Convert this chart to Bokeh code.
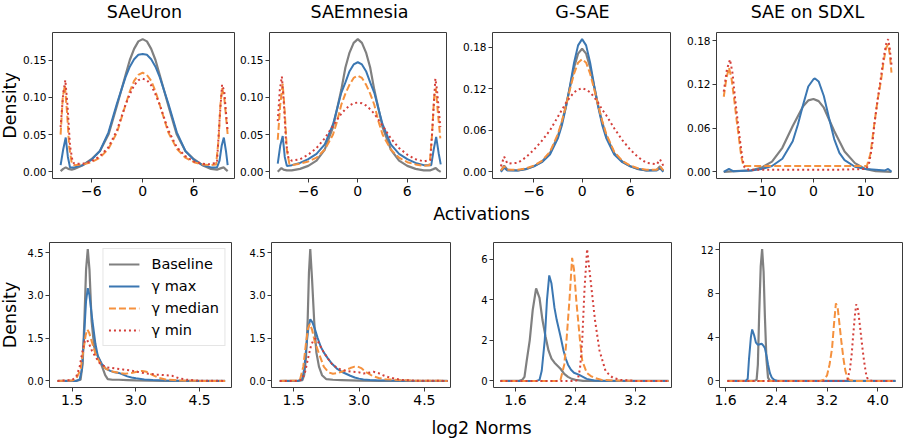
import math

from bokeh.plotting import figure
from bokeh.layouts import column, row
from bokeh.models import Range1d, FixedTicker, Label
from bokeh.embed import file_html
from bokeh.resources import INLINE

FONT = "DejaVu Sans"

# ---------------------------------------------------------------- data
series_names = ["Baseline", "γ max", "γ median", "γ min"]
panel_titles = ["SAeUron", "SAEmnesia", "G-SAE", "SAE on SDXL"]

# Activation densities -- SAeUron
saeuron_act_base_x = [-9.6, -9.3, -9.0, -8.7, -8.3, -8, -7, -6, -5, -4, -3, -2, -1.5, -1, -0.5, 0, 0.5, 1, 1.5, 2, 3, 4, 5, 6, 7, 8, 8.7, 9.2, 9.5, 9.75, 9.95]
saeuron_act_base_y = [0.001, 0.004, 0.006, 0.004, 0.003, 0.004, 0.009, 0.017, 0.028, 0.05, 0.089, 0.13, 0.15, 0.165, 0.175, 0.178, 0.175, 0.165, 0.15, 0.13, 0.089, 0.05, 0.028, 0.017, 0.009, 0.004, 0.003, 0.005, 0.006, 0.003, 0.001]
saeuron_act_max_x = [-9.6, -9.3, -9.0, -8.75, -8.5, -8, -7, -6, -5, -4, -3, -2, -1.5, -1, -0.5, 0, 0.5, 1, 1.5, 2, 3, 4, 5, 6, 7, 8, 8.7, 9.0, 9.25, 9.5, 9.75, 9.95]
saeuron_act_max_y = [0.009, 0.03, 0.046, 0.02, 0.006, 0.006, 0.009, 0.016, 0.028, 0.053, 0.092, 0.127, 0.141, 0.151, 0.157, 0.158, 0.157, 0.151, 0.141, 0.127, 0.092, 0.053, 0.028, 0.016, 0.009, 0.006, 0.006, 0.015, 0.035, 0.046, 0.028, 0.009]
saeuron_act_med_x = [-9.6, -9.35, -9.1, -8.85, -8.6, -8.3, -8, -7, -6, -5, -4, -3, -2, -1.5, -1, -0.5, 0, 0.5, 1, 1.5, 2, 3, 4, 5, 6, 7, 8, 8.6, 8.9, 9.1, 9.3, 9.55, 9.75, 9.95]
saeuron_act_med_y = [0.05, 0.1, 0.116, 0.08, 0.034, 0.012, 0.009, 0.01, 0.013, 0.019, 0.031, 0.053, 0.09, 0.108, 0.122, 0.13, 0.133, 0.13, 0.122, 0.108, 0.09, 0.053, 0.031, 0.019, 0.013, 0.01, 0.009, 0.01, 0.045, 0.09, 0.112, 0.1, 0.075, 0.05]
saeuron_act_min_x = [-9.6, -9.3, -9.05, -8.8, -8.5, -8.2, -8, -7, -6, -5, -4, -3, -2, -1.5, -1, -0.5, 0, 0.5, 1, 1.5, 2, 3, 4, 5, 6, 7, 8, 8.7, 9.0, 9.3, 9.55, 9.75, 9.95]
saeuron_act_min_y = [0.06, 0.105, 0.123, 0.09, 0.035, 0.014, 0.011, 0.011, 0.014, 0.021, 0.033, 0.056, 0.09, 0.104, 0.116, 0.123, 0.125, 0.123, 0.116, 0.104, 0.09, 0.056, 0.033, 0.021, 0.014, 0.011, 0.01, 0.013, 0.07, 0.117, 0.108, 0.08, 0.055]

# Activation densities -- SAEmnesia
saemnesia_act_base_x = [-9.7, -9.45, -9.25, -9.0, -8.6, -8, -7, -6, -5, -4, -3, -2.5, -2, -1.5, -1, -0.5, 0, 0.5, 1, 1.5, 2, 2.5, 3, 4, 5, 6, 7, 8, 8.8, 9.2, 9.45, 9.75, 10.05]
saemnesia_act_base_y = [0.0, 0.003, 0.005, 0.003, 0.002, 0.002, 0.004, 0.008, 0.015, 0.03, 0.06, 0.085, 0.11, 0.14, 0.16, 0.173, 0.178, 0.173, 0.16, 0.14, 0.11, 0.085, 0.06, 0.03, 0.015, 0.008, 0.004, 0.002, 0.002, 0.004, 0.005, 0.002, 0.0]
saemnesia_act_max_x = [-9.7, -9.4, -9.1, -8.85, -8.6, -8, -7, -6, -5, -4, -3, -2.5, -2, -1.5, -1, -0.5, 0, 0.5, 1, 1.5, 2, 2.5, 3, 4, 5, 6, 7, 8, 8.9, 9.2, 9.5, 9.8, 10.05]
saemnesia_act_max_y = [0.011, 0.035, 0.048, 0.02, 0.008, 0.009, 0.012, 0.017, 0.024, 0.037, 0.064, 0.085, 0.106, 0.12, 0.135, 0.144, 0.147, 0.144, 0.135, 0.12, 0.106, 0.085, 0.064, 0.037, 0.024, 0.017, 0.012, 0.009, 0.009, 0.03, 0.047, 0.025, 0.01]
saemnesia_act_med_x = [-9.7, -9.4, -9.1, -8.85, -8.6, -8.3, -8, -7, -6, -5, -4, -3, -2.5, -2, -1.5, -1, -0.5, 0, 0.5, 1, 1.5, 2, 2.5, 3, 4, 5, 6, 7, 8, 8.7, 9.0, 9.25, 9.45, 9.7, 10.0]
saemnesia_act_med_y = [0.043, 0.09, 0.118, 0.08, 0.03, 0.011, 0.009, 0.011, 0.014, 0.019, 0.03, 0.05, 0.068, 0.09, 0.105, 0.117, 0.126, 0.129, 0.126, 0.117, 0.105, 0.09, 0.068, 0.05, 0.03, 0.019, 0.013, 0.01, 0.008, 0.009, 0.05, 0.1, 0.112, 0.08, 0.045]
saemnesia_act_min_x = [-9.7, -9.45, -9.2, -8.95, -8.7, -8.4, -8, -7, -6, -5, -4, -3, -2.5, -2, -1.5, -1, -0.5, 0, 0.5, 1, 1.5, 2, 2.5, 3, 4, 5, 6, 7, 8, 8.8, 9.1, 9.4, 9.6, 9.8, 10.0]
saemnesia_act_min_y = [0.068, 0.11, 0.128, 0.09, 0.04, 0.018, 0.015, 0.017, 0.023, 0.032, 0.045, 0.062, 0.07, 0.078, 0.084, 0.089, 0.092, 0.093, 0.092, 0.089, 0.084, 0.078, 0.07, 0.062, 0.045, 0.032, 0.023, 0.017, 0.014, 0.016, 0.07, 0.125, 0.11, 0.085, 0.06]

# Activation densities -- G-SAE
gsae_act_x = [-10.1, -9.7, -9.3, -8, -7, -6, -5, -4, -3, -2.5, -2, -1.5, -1, -0.5, 0, 0.5, 1, 1.5, 2, 2.5, 3, 4, 5, 6, 7, 8, 9.3, 9.7, 10.1]
gsae_act_base_y = [0.001, 0.009, 0.003, 0.002, 0.004, 0.008, 0.015, 0.027, 0.052, 0.072, 0.096, 0.123, 0.151, 0.171, 0.178, 0.171, 0.151, 0.123, 0.096, 0.072, 0.052, 0.027, 0.015, 0.008, 0.004, 0.002, 0.003, 0.008, 0.001]
gsae_act_max_y = [0.0, 0.006, 0.002, 0.002, 0.004, 0.008, 0.014, 0.025, 0.049, 0.068, 0.094, 0.125, 0.158, 0.183, 0.192, 0.183, 0.158, 0.125, 0.094, 0.068, 0.049, 0.025, 0.014, 0.008, 0.004, 0.002, 0.002, 0.005, 0.0]
gsae_act_med_y = [0.002, 0.008, 0.003, 0.003, 0.005, 0.009, 0.016, 0.029, 0.055, 0.074, 0.096, 0.12, 0.142, 0.158, 0.163, 0.158, 0.142, 0.12, 0.096, 0.074, 0.055, 0.029, 0.016, 0.009, 0.005, 0.003, 0.003, 0.008, 0.002]
gsae_act_min_y = [0.008, 0.022, 0.012, 0.013, 0.021, 0.032, 0.045, 0.06, 0.08, 0.09, 0.1, 0.108, 0.115, 0.119, 0.121, 0.119, 0.115, 0.108, 0.1, 0.09, 0.082, 0.063, 0.046, 0.032, 0.021, 0.013, 0.011, 0.018, 0.009]

# Activation densities -- SAE on SDXL
sdxl_act_base_x = [-17.3, -15, -12, -10, -8, -6, -4, -2, -1, 0, 1, 2, 4, 6, 8, 10, 12, 15.05]
sdxl_act_base_y = [0.0, 0.001, 0.002, 0.006, 0.014, 0.033, 0.063, 0.09, 0.098, 0.1, 0.097, 0.088, 0.056, 0.028, 0.012, 0.004, 0.001, 0.0]
sdxl_act_max_x = [-17.3, -16.3, -15.5, -12, -10, -8, -6, -4, -3, -2, -1, 0, 0.3, 1, 2, 3, 4, 5, 6, 8, 10, 12, 13.8, 14.4, 15.05]
sdxl_act_max_y = [0.0, 0.004, 0.001, 0.002, 0.004, 0.008, 0.018, 0.042, 0.065, 0.092, 0.117, 0.127, 0.128, 0.124, 0.104, 0.074, 0.045, 0.026, 0.016, 0.007, 0.004, 0.003, 0.002, 0.004, 0.0]
sdxl_act_med_x = [-17.3, -16.8, -16.3, -15.8, -15.3, -14.8, -14.35, -13.9, -13.5, -10, -5, 0, 5, 10.3, 11.0, 11.7, 12.4, 13.0, 13.5, 14.0, 14.4, 14.7, 15.05]
sdxl_act_med_y = [0.103, 0.128, 0.143, 0.128, 0.1, 0.07, 0.045, 0.02, 0.008, 0.008, 0.008, 0.008, 0.008, 0.008, 0.025, 0.064, 0.1, 0.124, 0.15, 0.17, 0.175, 0.162, 0.136]
sdxl_act_min_x = [-17.3, -16.7, -16.1, -15.6, -15.2, -14.7, -14.2, -13.7, -13.3, -12.5, -5, 0, 5, 10.2, 10.75, 11.3, 11.8, 12.4, 13.0, 13.5, 14.0, 14.4, 14.7, 15.05]
sdxl_act_min_y = [0.11, 0.14, 0.154, 0.135, 0.106, 0.075, 0.045, 0.018, 0.006, 0.003, 0.003, 0.003, 0.003, 0.004, 0.0125, 0.035, 0.068, 0.1, 0.129, 0.155, 0.175, 0.182, 0.17, 0.147]

# log2-norm densities -- SAeUron
saeuron_norm_base_x = [1.16, 1.6, 1.7, 1.75, 1.79, 1.83, 1.87, 1.91, 1.96, 2.02, 2.08, 2.15, 2.22, 2.28, 2.34, 2.45, 2.6, 2.8, 3.0, 3.3, 3.7, 4.2, 4.7, 5.1]
saeuron_norm_base_y = [0.0, 0.0, 0.04, 0.6, 2.1, 3.9, 4.62, 3.9, 2.1, 1.2, 0.95, 0.73, 0.45, 0.2, 0.06, 0.04, 0.04, 0.03, 0.02, 0.01, 0.0, 0.0, 0.0, 0.0]
saeuron_norm_max_x = [1.16, 1.6, 1.68, 1.73, 1.78, 1.83, 1.87, 1.91, 1.98, 2.05, 2.11, 2.2, 2.3, 2.4, 2.5, 2.6, 2.7, 2.8, 2.9, 3.0, 3.2, 3.4, 3.7, 4.0, 4.5, 5.1]
saeuron_norm_max_y = [0.0, 0.0, 0.05, 0.4, 1.5, 2.8, 3.25, 3.0, 2.1, 1.3, 0.85, 0.6, 0.42, 0.35, 0.3, 0.28, 0.22, 0.16, 0.12, 0.09, 0.05, 0.03, 0.015, 0.005, 0.0, 0.0]
saeuron_norm_med_x = [1.16, 1.5, 1.6, 1.7, 1.77, 1.82, 1.86, 1.9, 1.96, 2.05, 2.15, 2.3, 2.45, 2.6, 2.75, 2.9, 3.05, 3.15, 3.25, 3.4, 3.55, 3.7, 3.9, 4.1, 4.5, 5.1]
saeuron_norm_med_y = [0.0, 0.01, 0.08, 0.4, 1.1, 1.6, 1.8, 1.7, 1.4, 0.95, 0.65, 0.42, 0.33, 0.28, 0.25, 0.28, 0.33, 0.35, 0.32, 0.2, 0.1, 0.05, 0.03, 0.01, 0.0, 0.0]
saeuron_norm_min_x = [1.16, 1.5, 1.6, 1.68, 1.74, 1.8, 1.85, 1.9, 1.97, 2.05, 2.15, 2.3, 2.5, 2.7, 2.9, 3.1, 3.3, 3.5, 3.7, 3.85, 4.0, 4.2, 4.5, 5.1]
saeuron_norm_min_y = [0.0, 0.03, 0.15, 0.5, 1.0, 1.4, 1.45, 1.3, 1.05, 0.85, 0.62, 0.48, 0.44, 0.4, 0.36, 0.3, 0.25, 0.22, 0.2, 0.18, 0.1, 0.04, 0.01, 0.0]

# log2-norm densities -- SAEmnesia
saemnesia_norm_base_x = [1.18, 1.6, 1.7, 1.74, 1.78, 1.82, 1.85, 1.88, 1.92, 1.97, 2.02, 2.08, 2.15, 2.25, 2.4, 2.6, 2.8, 3.0, 3.5, 4.0, 4.5, 5.03]
saemnesia_norm_base_y = [0.0, 0.0, 0.03, 0.2, 0.8, 2.1, 3.8, 4.62, 3.6, 2.1, 1.0, 0.5, 0.2, 0.06, 0.04, 0.03, 0.02, 0.01, 0.0, 0.0, 0.0, 0.0]
saemnesia_norm_max_x = [1.18, 1.6, 1.69, 1.74, 1.79, 1.84, 1.88, 1.93, 1.99, 2.05, 2.12, 2.19, 2.28, 2.38, 2.5, 2.6, 2.7, 2.8, 2.9, 3.0, 3.1, 3.25, 3.4, 3.7, 4.2, 5.03]
saemnesia_norm_max_y = [0.0, 0.0, 0.05, 0.4, 1.2, 1.9, 2.16, 2.05, 1.8, 1.5, 1.2, 1.0, 0.8, 0.6, 0.42, 0.32, 0.25, 0.18, 0.12, 0.08, 0.05, 0.03, 0.02, 0.01, 0.0, 0.0]
saemnesia_norm_med_x = [1.18, 1.55, 1.65, 1.72, 1.78, 1.83, 1.87, 1.92, 1.98, 2.07, 2.19, 2.3, 2.4, 2.5, 2.6, 2.7, 2.8, 2.9, 2.97, 3.05, 3.15, 3.3, 3.45, 3.6, 3.8, 4.2, 5.03]
saemnesia_norm_med_y = [0.0, 0.01, 0.08, 0.5, 1.3, 1.85, 2.0, 1.8, 1.4, 1.0, 0.5, 0.3, 0.25, 0.27, 0.32, 0.38, 0.45, 0.5, 0.5, 0.45, 0.32, 0.18, 0.1, 0.06, 0.04, 0.01, 0.0]
saemnesia_norm_min_x = [1.18, 1.6, 1.69, 1.76, 1.83, 1.9, 1.96, 2.0, 2.05, 2.12, 2.19, 2.3, 2.4, 2.55, 2.7, 2.85, 3.0, 3.1, 3.2, 3.33, 3.45, 3.55, 3.7, 3.85, 4.0, 4.3, 5.03]
saemnesia_norm_min_y = [0.0, 0.0, 0.05, 0.3, 0.8, 1.25, 1.45, 1.48, 1.4, 1.2, 1.0, 0.75, 0.55, 0.42, 0.35, 0.32, 0.3, 0.26, 0.28, 0.32, 0.27, 0.2, 0.12, 0.07, 0.03, 0.01, 0.0]

# log2-norm densities -- G-SAE
gsae_norm_base_x = [1.4, 1.65, 1.69, 1.72, 1.75, 1.79, 1.83, 1.875, 1.92, 1.96, 2.0, 2.04, 2.08, 2.12, 2.16, 2.2, 2.25, 2.3, 2.35, 2.4, 2.5, 2.8, 3.2, 3.64]
gsae_norm_base_y = [0.0, 0.0, 0.05, 0.2, 1.0, 2.0, 3.5, 4.56, 4.1, 3.0, 2.2, 1.5, 1.1, 0.9, 0.75, 0.6, 0.35, 0.2, 0.1, 0.05, 0.0, 0.0, 0.0, 0.0]
gsae_norm_max_x = [1.4, 1.88, 1.92, 1.95, 1.99, 2.02, 2.05, 2.08, 2.12, 2.15, 2.2, 2.24, 2.27, 2.3, 2.34, 2.38, 2.45, 2.5, 2.55, 2.65, 2.8, 3.2, 3.64]
gsae_norm_max_y = [0.0, 0.0, 0.05, 0.5, 2.0, 4.0, 5.2, 4.8, 3.6, 3.0, 2.2, 1.5, 1.1, 0.8, 0.55, 0.4, 0.3, 0.2, 0.1, 0.02, 0.0, 0.0, 0.0]
gsae_norm_med_x = [1.4, 2.15, 2.2, 2.25, 2.28, 2.32, 2.355, 2.38, 2.41, 2.46, 2.49, 2.55, 2.6, 2.65, 2.75, 2.9, 3.2, 3.64]
gsae_norm_med_y = [0.0, 0.0, 0.05, 0.8, 2.0, 4.0, 6.07, 5.5, 4.0, 2.0, 1.0, 0.4, 0.25, 0.15, 0.05, 0.02, 0.0, 0.0]
gsae_norm_min_x = [1.4, 2.4, 2.43, 2.46, 2.49, 2.52, 2.555, 2.6, 2.63, 2.66, 2.72, 2.8, 2.85, 2.9, 3.0, 3.2, 3.64]
gsae_norm_min_y = [0.0, 0.0, 0.05, 0.6, 2.0, 4.5, 6.5, 5.0, 4.0, 3.0, 1.5, 0.5, 0.3, 0.15, 0.05, 0.0, 0.0]

# log2-norm densities -- SAE on SDXL
sdxl_norm_base_x = [1.63, 2.05, 2.09, 2.11, 2.13, 2.155, 2.177, 2.2, 2.22, 2.245, 2.27, 2.3, 2.6, 3.0, 3.5, 4.28]
sdxl_norm_base_y = [0.0, 0.0, 0.1, 1.5, 6.0, 10.5, 12.06, 10.0, 6.0, 2.0, 0.3, 0.0, 0.0, 0.0, 0.0, 0.0]
sdxl_norm_max_x = [1.63, 1.92, 1.95, 1.97, 2.0, 2.02, 2.05, 2.08, 2.11, 2.14, 2.17, 2.2, 2.22, 2.25, 2.27, 2.3, 2.33, 2.37, 2.42, 2.8, 3.5, 4.28]
sdxl_norm_max_y = [0.0, 0.0, 0.2, 2.0, 4.0, 4.7, 4.2, 3.5, 3.3, 3.35, 3.4, 3.2, 3.0, 2.2, 1.5, 0.7, 0.3, 0.08, 0.0, 0.0, 0.0, 0.0]
sdxl_norm_med_x = [1.63, 3.1, 3.15, 3.2, 3.24, 3.28, 3.31, 3.34, 3.37, 3.4, 3.43, 3.46, 3.49, 3.52, 3.56, 3.62, 4.28]
sdxl_norm_med_y = [0.0, 0.0, 0.1, 0.5, 1.5, 3.0, 5.2, 7.1, 6.6, 5.0, 3.4, 2.0, 0.9, 0.3, 0.05, 0.0, 0.0]
sdxl_norm_min_x = [1.63, 3.48, 3.52, 3.56, 3.59, 3.61, 3.64, 3.66, 3.69, 3.72, 3.75, 3.78, 3.81, 3.83, 3.87, 3.92, 4.28]
sdxl_norm_min_y = [0.0, 0.0, 0.1, 1.0, 2.5, 4.0, 6.0, 7.0, 6.5, 5.0, 3.4, 2.0, 0.8, 0.3, 0.05, 0.0, 0.0]

# tick positions and their labels
act_xticks = [-6, 0, 6]
act_xlabels = ["\u22126", "0", "6"]
sdxl_act_xticks = [-10, 0, 10]
sdxl_act_xlabels = ["\u221210", "0", "10"]
act_yticks_a = [0.0, 0.05, 0.10, 0.15]
act_ylabels_a = ["0.00", "0.05", "0.10", "0.15"]
act_yticks_b = [0.0, 0.06, 0.12, 0.18]
act_ylabels_b = ["0.00", "0.06", "0.12", "0.18"]
norm_xticks_a = [1.5, 3.0, 4.5]
norm_xlabels_a = ["1.5", "3.0", "4.5"]
norm_xticks_b = [1.6, 2.4, 3.2]
norm_xlabels_b = ["1.6", "2.4", "3.2"]
norm_xticks_c = [1.6, 2.4, 3.2, 4.0]
norm_xlabels_c = ["1.6", "2.4", "3.2", "4.0"]
norm_yticks_a = [0.0, 1.5, 3.0, 4.5]
norm_ylabels_a = ["0.0", "1.5", "3.0", "4.5"]
norm_yticks_b = [0, 2, 4, 6]
norm_ylabels_b = ["0", "2", "4", "6"]
norm_yticks_c = [0, 4, 8, 12]
norm_ylabels_c = ["0", "4", "8", "12"]

# ---------------------------------------------------------------- styles
STYLES = [
    dict(line_color="#808080", line_width=2.2, line_dash="solid"),
    dict(line_color="#3b77b2", line_width=2.0, line_dash="solid"),
    dict(line_color="#f5913e", line_width=2.0, line_dash="7 3"),
    dict(line_color="#d43f3a", line_width=2.0, line_dash="2 3"),
]
LABEL_SIZE = "17.5px"


def make_panel(curves, xr, yr, xticks, xlabels, yticks, ylabels, width, height,
               left, right, top, bottom, ytick_size="10.5px", legend=False):
    p = figure(width=width, height=height, x_range=Range1d(*xr), y_range=Range1d(*yr),
               output_backend="svg", toolbar_location=None,
               min_border_left=left, min_border_right=right,
               min_border_top=top, min_border_bottom=bottom)
    p.background_fill_color = "white"
    p.border_fill_color = "white"
    p.outline_line_color = "#3a3a3a"
    p.outline_line_width = 1
    p.xgrid.visible = False
    p.ygrid.visible = False
    for ax, ticks, labels, size, standoff in ((p.xaxis[0], xticks, xlabels, "14px", 3),
                                              (p.yaxis[0], yticks, ylabels, ytick_size, 2)):
        ax.ticker = FixedTicker(ticks=ticks)
        ax.major_label_overrides = dict(zip(ticks, labels))
        ax.axis_line_color = None
        ax.major_tick_out = 4
        ax.major_tick_in = 0
        ax.minor_tick_out = 0
        ax.minor_tick_in = 0
        ax.major_tick_line_color = "#3a3a3a"
        ax.major_label_text_font = FONT
        ax.major_label_text_font_size = size
        ax.major_label_text_color = "black"
        ax.major_label_standoff = standoff
    for (xs, ys), name, st in zip(curves, series_names, STYLES):
        if legend:
            p.line(xs, ys, legend_label=name, **st)
        else:
            p.line(xs, ys, **st)
    if legend:
        lg = p.legend[0]
        lg.location = "top_right"
        lg.label_text_font = FONT
        lg.label_text_font_size = "14.5px"
        lg.label_text_color = "black"
        lg.glyph_width = 31
        lg.glyph_height = 20
        lg.label_height = 20
        lg.label_standoff = 12
        lg.spacing = 2
        lg.padding = 5
        lg.margin = 6
        lg.border_line_color = "#cccccc"
        lg.border_line_width = 1
        lg.background_fill_alpha = 0.85
    return p


def text_strip(texts, xs, ys, width, height, angle=0.0):
    # a blank strip carrying single-line texts centred on (x, y), y measured from its top edge
    p = figure(width=width, height=height, x_range=Range1d(0, width), y_range=Range1d(0, height),
               output_backend="svg", toolbar_location=None, min_border=0,
               x_axis_location=None, y_axis_location=None)
    p.outline_line_color = None
    p.xgrid.visible = False
    p.ygrid.visible = False
    p.background_fill_color = "white"
    p.border_fill_color = "white"
    for text, cx, cy in zip(texts, xs, ys):
        p.add_layout(Label(x=cx, y=height - cy, text=text, text_align="center",
                           text_baseline="middle", text_font=FONT, angle=angle,
                           text_font_size=LABEL_SIZE, text_color="black"))
    return p


# ---------------------------------------------------------------- shared labels
density_strip = text_strip(["Density", "Density"], [9.5, 9.5], [105, 314.5], 20, 438,
                           angle=math.pi / 2)
titles = text_strip(panel_titles, [124, 339, 562, 787], [11.5] * 4, 883, 24)
act_caption = text_strip(["Activations"], [461], [11], 883, 22)
norm_caption = text_strip(["log2 Norms"], [461], [14], 883, 25)

# ---------------------------------------------------------------- top row: activations
a1 = make_panel([(saeuron_act_base_x, saeuron_act_base_y), (saeuron_act_max_x, saeuron_act_max_y),
                 (saeuron_act_med_x, saeuron_act_med_y), (saeuron_act_min_x, saeuron_act_min_y)],
                (-10.55, 10.75), (-0.0089, 0.1869), act_xticks, act_xlabels, act_yticks_a, act_ylabels_a,
                217, 178, 32, 3, 8, 24)
a2 = make_panel([(saemnesia_act_base_x, saemnesia_act_base_y), (saemnesia_act_max_x, saemnesia_act_max_y),
                 (saemnesia_act_med_x, saemnesia_act_med_y), (saemnesia_act_min_x, saemnesia_act_min_y)],
                (-10.7, 10.75), (-0.0089, 0.1869), act_xticks, act_xlabels, act_yticks_a, act_ylabels_a,
                223, 178, 32, 14, 8, 24)
a3 = make_panel([(gsae_act_x, gsae_act_base_y), (gsae_act_x, gsae_act_max_y),
                 (gsae_act_x, gsae_act_med_y), (gsae_act_x, gsae_act_min_y)],
                (-11.15, 11.0), (-0.0096, 0.2016), act_xticks, act_xlabels, act_yticks_b, act_ylabels_b,
                223, 178, 32, 13, 8, 24)
a4 = make_panel([(sdxl_act_base_x, sdxl_act_base_y), (sdxl_act_max_x, sdxl_act_max_y),
                 (sdxl_act_med_x, sdxl_act_med_y), (sdxl_act_min_x, sdxl_act_min_y)],
                (-18.7, 16.4), (-0.0091, 0.1911), sdxl_act_xticks, sdxl_act_xlabels, act_yticks_b, act_ylabels_b,
                220, 178, 33, 5, 8, 24)

# ---------------------------------------------------------------- bottom row: log2 norms
n1 = make_panel([(saeuron_norm_base_x, saeuron_norm_base_y), (saeuron_norm_max_x, saeuron_norm_max_y),
                 (saeuron_norm_med_x, saeuron_norm_med_y), (saeuron_norm_min_x, saeuron_norm_min_y)],
                (0.97, 5.25), (-0.231, 4.851), norm_xticks_a, norm_xlabels_a, norm_yticks_a, norm_ylabels_a,
                216, 189, 29, 5, 18, 26, ytick_size="10px", legend=True)
n2 = make_panel([(saemnesia_norm_base_x, saemnesia_norm_base_y), (saemnesia_norm_max_x, saemnesia_norm_max_y),
                 (saemnesia_norm_med_x, saemnesia_norm_med_y), (saemnesia_norm_min_x, saemnesia_norm_min_y)],
                (0.99, 5.1), (-0.231, 4.851), norm_xticks_a, norm_xlabels_a, norm_yticks_a, norm_ylabels_a,
                224, 189, 35, 10, 18, 26, ytick_size="10px")
n3 = make_panel([(gsae_norm_base_x, gsae_norm_base_y), (gsae_norm_max_x, gsae_norm_max_y),
                 (gsae_norm_med_x, gsae_norm_med_y), (gsae_norm_min_x, gsae_norm_min_y)],
                (1.307, 3.68), (-0.325, 6.825), norm_xticks_b, norm_xlabels_b, norm_yticks_b, norm_ylabels_b,
                223, 189, 33, 12, 18, 26, ytick_size="10px")
n4 = make_panel([(sdxl_norm_base_x, sdxl_norm_base_y), (sdxl_norm_max_x, sdxl_norm_max_y),
                 (sdxl_norm_med_x, sdxl_norm_med_y), (sdxl_norm_min_x, sdxl_norm_min_y)],
                (1.505, 4.39), (-0.603, 12.663), norm_xticks_c, norm_xlabels_c, norm_yticks_c, norm_ylabels_c,
                220, 189, 36, 1, 18, 26, ytick_size="10px")

grid = column(titles, row(a1, a2, a3, a4, spacing=0), act_caption,
              row(n1, n2, n3, n4, spacing=0), norm_caption, spacing=0)
p = row(density_strip, grid, spacing=0)

open("out.html", "w").write(file_html(p, INLINE))
